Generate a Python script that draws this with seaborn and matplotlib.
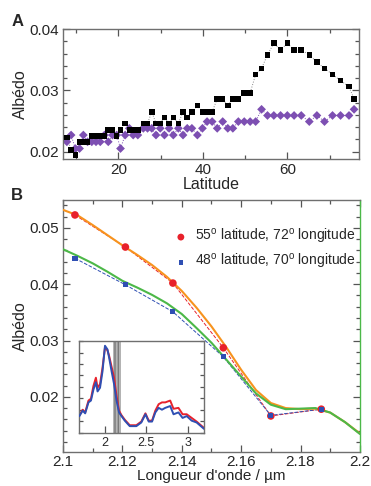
import numpy as np
import pandas as pd
import seaborn as sns
import matplotlib.pyplot as plt
from matplotlib.ticker import MultipleLocator, NullFormatter

# Panneau A : albédo en fonction de la latitude
latitude = [7.8, 8.8, 9.8, 10.8, 11.7, 12.7, 13.7, 14.7, 15.7, 16.7, 17.6, 18.6, 19.6,
            20.5, 21.6, 22.6, 23.5, 24.6, 25.9, 26.9, 27.9, 28.9, 29.9, 30.9, 32.0,
            33.0, 34.2, 35.3, 36.3, 37.4, 38.7, 39.9, 41.0, 42.2, 43.4, 44.7, 45.9,
            47.1, 48.4, 49.8, 51.2, 52.5, 53.9, 55.3, 56.8, 58.4, 60.0, 61.6, 63.3,
            65.2, 67.0, 68.8, 70.7, 72.6, 74.6, 75.8]
albedo_noir = [0.0223, 0.0203, 0.0194, 0.0216, 0.0216, 0.0216, 0.0225, 0.0225, 0.0225,
               0.0225, 0.0235, 0.0235, 0.0225, 0.0235, 0.0246, 0.0235, 0.0235, 0.0235,
               0.0246, 0.0246, 0.0265, 0.0246, 0.0246, 0.0256, 0.0246, 0.0256, 0.0246,
               0.0265, 0.0256, 0.0265, 0.0275, 0.0265, 0.0265, 0.0265, 0.0286, 0.0286,
               0.0275, 0.0286, 0.0286, 0.0296, 0.0296, 0.0326, 0.0336, 0.0358, 0.0377,
               0.0366, 0.0377, 0.0366, 0.0366, 0.0358, 0.0346, 0.0336, 0.0326, 0.0316,
               0.0306, 0.0286]
albedo_violet = [0.0216, 0.0227, 0.0205, 0.0205, 0.0227, 0.0216, 0.0216, 0.0216, 0.0216,
                 0.0227, 0.0216, 0.0227, 0.0227, 0.0205, 0.0227, 0.0238, 0.0227, 0.0227,
                 0.0238, 0.0238, 0.0238, 0.0227, 0.0238, 0.0227, 0.0238, 0.0227, 0.0238,
                 0.0227, 0.0238, 0.0238, 0.0227, 0.0238, 0.0249, 0.0249, 0.0238, 0.0249,
                 0.0238, 0.0238, 0.0249, 0.0249, 0.0249, 0.0249, 0.0269, 0.0259, 0.0259,
                 0.0259, 0.0259, 0.0259, 0.0259, 0.0249, 0.0259, 0.0249, 0.0259, 0.0259,
                 0.0259, 0.0269]

# Panneau B : mesures et modèles autour de 2.1-2.2 µm
lambda_mes = [2.104, 2.121, 2.137, 2.154, 2.170, 2.187]
albedo_55 = [0.0523, 0.0466, 0.0402, 0.0287, 0.0166, 0.0178]
albedo_48 = [0.0446, 0.0399, 0.0351, 0.0271, 0.0167, 0.0178]

lambda_mod = [2.100, 2.105, 2.110, 2.115, 2.120, 2.125, 2.130, 2.135, 2.140, 2.145, 2.150,
              2.155, 2.160, 2.165, 2.170, 2.175, 2.180, 2.185, 2.190, 2.195, 2.200]
modele_55 = [0.0532, 0.0522, 0.0505, 0.0487, 0.0469, 0.0452, 0.0434, 0.0413, 0.0388,
             0.0358, 0.0325, 0.0288, 0.0248, 0.0212, 0.0189, 0.0180, 0.0178, 0.0179,
             0.0172, 0.0155, 0.0135]
modele_48 = [0.0462, 0.0450, 0.0437, 0.0422, 0.0406, 0.0394, 0.0381, 0.0366, 0.0347,
             0.0322, 0.0296, 0.0266, 0.0236, 0.0206, 0.0186, 0.0178, 0.0179, 0.0180,
             0.0172, 0.0155, 0.0134]

# Encart : spectres complets (unités arbitraires)
lambda_spec = [1.69, 1.73, 1.76, 1.80, 1.83, 1.86, 1.89, 1.91, 1.94, 1.97, 2.00, 2.03,
               2.05, 2.08, 2.11, 2.14, 2.17, 2.20, 2.24, 2.30, 2.38, 2.44, 2.49, 2.53,
               2.57, 2.61, 2.65, 2.69, 2.73, 2.79, 2.83, 2.89, 2.94, 2.99, 3.05, 3.11, 3.20]
spec_rouge = [0.19, 0.25, 0.22, 0.35, 0.37, 0.51, 0.60, 0.49, 0.53, 0.71, 0.93, 0.90,
              0.84, 0.72, 0.60, 0.40, 0.24, 0.19, 0.14, 0.08, 0.08, 0.12, 0.21, 0.13,
              0.13, 0.24, 0.31, 0.33, 0.33, 0.35, 0.26, 0.27, 0.20, 0.20, 0.16, 0.12, 0.05]
spec_bleu = [0.18, 0.24, 0.21, 0.33, 0.35, 0.47, 0.55, 0.45, 0.49, 0.67, 0.95, 0.91,
             0.82, 0.67, 0.53, 0.35, 0.22, 0.18, 0.13, 0.07, 0.07, 0.11, 0.20, 0.12,
             0.12, 0.22, 0.27, 0.25, 0.27, 0.29, 0.20, 0.22, 0.16, 0.18, 0.13, 0.11, 0.04]

sns.set_style("ticks")
plt.rcParams['font.family'] = ['Liberation Sans', 'DejaVu Sans']
plt.rcParams['mathtext.fontset'] = 'custom'
plt.rcParams['mathtext.rm'] = 'Liberation Sans'

gris = "#6f6f6f"
rouge = "#e8212b"
bleu = "#2f4fb3"
orange = "#f7931e"
vert = "#4cb848"
violet = "#7d4fb2"


def style_axes(ax, taille=11):
    for s in ax.spines.values():
        s.set_color(gris)
        s.set_linewidth(1.0)
    ax.tick_params(which="both", direction="in", top=True, right=True,
                   color="#555555", width=0.9, labelsize=taille, pad=3)
    ax.tick_params(which="major", length=5)
    ax.tick_params(which="minor", length=3)


fig = plt.figure(figsize=(3.71, 4.86), dpi=100)

# A
axA = fig.add_axes([0.170, 0.673, 0.798, 0.267])
dfA = pd.DataFrame({"lat": latitude, "noir": albedo_noir, "violet": albedo_violet})
axA.plot(dfA["lat"], dfA["noir"], ls=":", lw=0.7, color="#888888", zorder=1)
axA.plot(dfA["lat"], dfA["violet"], ls=":", lw=0.7, color=violet, zorder=1)
sns.scatterplot(data=dfA, x="lat", y="noir", marker="s", s=16, color="black",
                edgecolor="none", ax=axA, zorder=3)
sns.scatterplot(data=dfA, x="lat", y="violet", marker="D", s=20, color=violet,
                edgecolor="none", ax=axA, zorder=2)
axA.set_xlim(6.9, 77)
axA.set_ylim(0.0188, 0.0400)
axA.xaxis.set_major_locator(MultipleLocator(20))
axA.xaxis.set_minor_locator(MultipleLocator(10))
axA.yaxis.set_major_locator(MultipleLocator(0.01))
axA.yaxis.set_minor_locator(MultipleLocator(0.002))
axA.set_xlabel("Latitude", fontsize=11.5, labelpad=0)
axA.set_ylabel("Albédo", fontsize=11.5, labelpad=1)
style_axes(axA)
fig.text(0.03, 0.955, "A", fontsize=12, fontweight="bold", va="center")

# B
axB = fig.add_axes([0.170, 0.070, 0.800, 0.519])
axB.plot(lambda_mes, albedo_55, ls="--", lw=0.7, color=rouge, zorder=2)
axB.plot(lambda_mes, albedo_48, ls="--", lw=0.7, color=bleu, zorder=2)
sns.lineplot(x=lambda_mod, y=modele_55, color=orange, lw=1.5, ax=axB, zorder=3)
sns.lineplot(x=lambda_mod, y=modele_48, color=vert, lw=1.5, ax=axB, zorder=3)
sns.scatterplot(x=lambda_mes, y=albedo_55, marker="o", s=30, color=rouge,
                edgecolor="none", ax=axB, zorder=4,
                label="55$^{\\mathrm{o}}$ latitude, 72$^{\\mathrm{o}}$ longitude")
sns.scatterplot(x=lambda_mes, y=albedo_48, marker="s", s=14, color=bleu,
                edgecolor="none", ax=axB, zorder=5,
                label="48$^{\\mathrm{o}}$ latitude, 70$^{\\mathrm{o}}$ longitude")
axB.set_xlim(2.1, 2.2)
axB.set_ylim(0.0102, 0.055)
axB.xaxis.set_minor_locator(MultipleLocator(0.01))
axB.yaxis.set_major_locator(MultipleLocator(0.01))
axB.yaxis.set_minor_locator(MultipleLocator(0.002))
axB.set_xticks([2.1, 2.12, 2.14, 2.16, 2.18, 2.2])
axB.set_xticklabels(["2.1", "2.12", "2.14", "2.16", "2.18", "2.2"])
axB.set_xlabel("Longueur d'onde / µm", fontsize=11, labelpad=0)
axB.set_ylabel("Albédo", fontsize=11.5, labelpad=1)
style_axes(axB)
axB.tick_params(axis="x", pad=2)
axB.spines["right"].set_color(vert)
leg = axB.legend(loc="upper right", bbox_to_anchor=(1.02, 0.93), frameon=False,
                 fontsize=10, handletextpad=0.05, labelspacing=0.45,
                 borderaxespad=0.3, markerscale=0.9)
fig.text(0.03, 0.597, "B", fontsize=12, fontweight="bold", va="center")

# Encart
axI = fig.add_axes([0.214, 0.110, 0.336, 0.188])
axI.axvspan(2.1, 2.2, facecolor="#b5b5b5", edgecolor="#7a7a7a", hatch="|||||", lw=0,
            zorder=1)
sns.lineplot(x=lambda_spec, y=spec_rouge, color=rouge, lw=1.4, ax=axI, zorder=2)
sns.lineplot(x=lambda_spec, y=spec_bleu, color=bleu, lw=1.4, ax=axI, zorder=3)
axI.set_xlim(1.69, 3.2)
axI.set_ylim(0.0, 1.0)
axI.set_xticks([2, 2.5, 3])
axI.set_xticklabels(["2", "2.5", "3"])
axI.yaxis.set_major_locator(MultipleLocator(0.125))
axI.yaxis.set_major_formatter(NullFormatter())
style_axes(axI, taille=9)
axI.tick_params(which="major", axis="y", length=3)
axI.tick_params(axis="x", top=False)

fig.savefig("out.png", dpi=100)
